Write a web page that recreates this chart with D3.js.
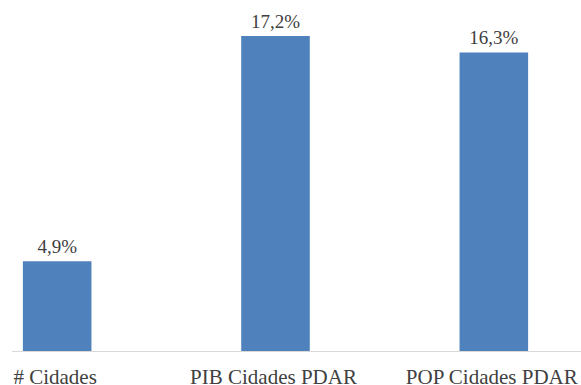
<!DOCTYPE html>
<html>
<head>
<meta charset="utf-8">
<script src="https://cdn.jsdelivr.net/npm/d3@7/dist/d3.min.js"></script>
<style>
  html, body { margin: 0; padding: 0; background: #fff; }
  svg { display: block; }
</style>
</head>
<body>
<svg id="chart" width="581" height="385"></svg>
<script>
// Share of the state held by PDAR cities (%)
const categories = ["# Cidades", "PIB Cidades PDAR", "POP Cidades PDAR"];
const values = [4.9, 17.2, 16.3];
const valueLabels = ["4,9%", "17,2%", "16,3%"];

const svg = d3.select("#chart");
const baseY = 351;
const font = "'Liberation Serif', 'Times New Roman', serif";

const x = d3.scaleBand()
  .domain(categories)
  .range([-52, 603])
  .paddingInner(0.686)
  .paddingOuter(0.343);

const y = d3.scaleLinear()
  .domain([0, 17.2])
  .range([baseY, 36]);

// bars
svg.selectAll("rect.bar")
  .data(values)
  .join("rect")
  .attr("class", "bar")
  .attr("x", (d, i) => x(categories[i]))
  .attr("width", x.bandwidth())
  .attr("y", d => y(d))
  .attr("height", d => baseY - y(d))
  .attr("fill", "#4F81BD");

// baseline
svg.append("line")
  .attr("x1", 12).attr("x2", 581)
  .attr("y1", baseY + 0.5).attr("y2", baseY + 0.5)
  .attr("stroke", "#D9D9D9")
  .attr("stroke-width", 1);

// value labels
svg.selectAll("text.value")
  .data(values)
  .join("text")
  .attr("class", "value")
  .attr("x", (d, i) => x(categories[i]) + x.bandwidth() / 2)
  .attr("y", d => y(d) - 8)
  .attr("text-anchor", "middle")
  .attr("font-family", font)
  .attr("font-size", 19)
  .attr("fill", "#404040")
  .text((d, i) => valueLabels[i]);

// category axis labels
svg.selectAll("text.cat")
  .data(categories)
  .join("text")
  .attr("class", "cat")
  .attr("x", d => x(d) + x.bandwidth() / 2 - 2)
  .attr("y", 384)
  .attr("text-anchor", "middle")
  .attr("font-family", font)
  .attr("font-size", 21)
  .attr("fill", "#404040")
  .text(d => d);
</script>
</body>
</html>
